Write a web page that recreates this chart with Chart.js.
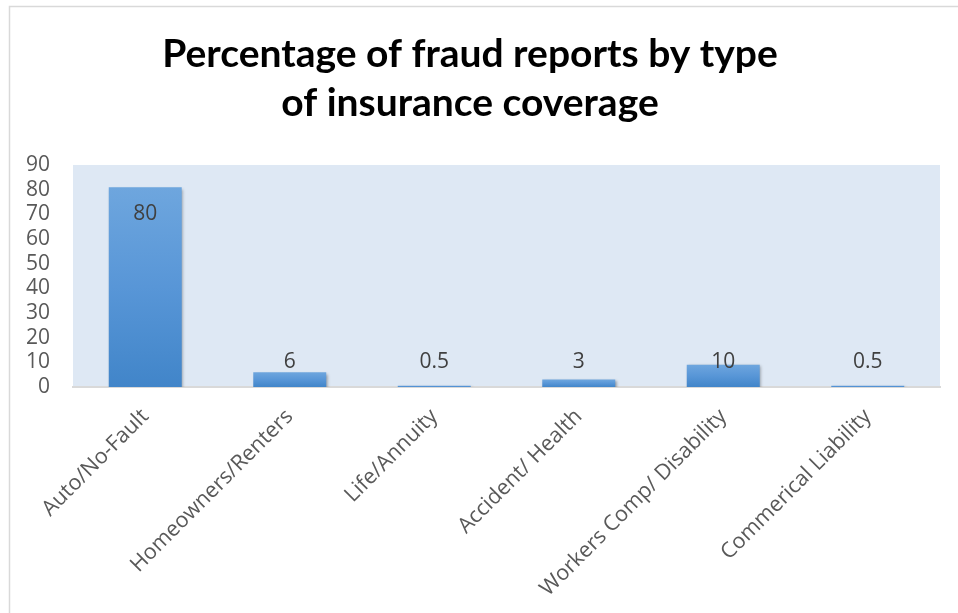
<!DOCTYPE html>
<html>
<head>
<meta charset="utf-8">
<script src="https://cdn.jsdelivr.net/npm/chart.js@4"></script>
<style>
  html, body { margin: 0; padding: 0; background: #ffffff; }
  #wrap { position: relative; width: 958px; height: 613px; }
</style>
</head>
<body>
<div id="wrap"><canvas id="c" width="958" height="613"></canvas></div>
<script>
const categories = ["Auto/No-Fault", "Homeowners/Renters", "Life/Annuity", "Accident/ Health", "Workers Comp/ Disability", "Commerical Liability"];
const values = [81, 6, 0.5, 3, 9, 0.5];
const valueLabels = ["80", "6", "0.5", "3", "10", "0.5"];
const yTicks = [0, 10, 20, 30, 40, 50, 60, 70, 80, 90];
const titleLines = ["Percentage of fraud reports by type", "of insurance coverage"];

const decor = {
  id: 'decor',
  beforeDraw(chart) {
    const ctx = chart.ctx, a = chart.chartArea;
    ctx.save();
    ctx.fillStyle = '#ffffff';
    ctx.fillRect(0, 0, chart.width, chart.height);
    ctx.strokeStyle = '#d9d9d9';
    ctx.lineWidth = 1.5;
    ctx.beginPath();
    ctx.moveTo(9.5, chart.height + 5);
    ctx.lineTo(9.5, 6.5);
    ctx.lineTo(chart.width + 5, 6.5);
    ctx.stroke();
    ctx.fillStyle = '#dee8f4';
    ctx.fillRect(a.left, a.top, a.right - a.left, a.bottom - a.top);
    ctx.restore();
  },
  beforeDatasetsDraw(chart) {
    const ctx = chart.ctx;
    ctx.save();
    ctx.shadowColor = 'rgba(0,0,0,0.35)';
    ctx.shadowBlur = 3;
    ctx.shadowOffsetX = 1.5;
    ctx.shadowOffsetY = 1.5;
  },
  afterDatasetsDraw(chart) {
    const ctx = chart.ctx;
    ctx.restore();
    const meta = chart.getDatasetMeta(0);
    const ys = chart.scales.y;
    ctx.save();
    ctx.font = '21px "Open Sans"';
    ctx.fillStyle = '#404040';
    ctx.textAlign = 'center';
    ctx.textBaseline = 'middle';
    meta.data.forEach((bar, i) => {
      const y = Math.min(bar.y + 27, ys.getPixelForValue(10));
      ctx.fillText(valueLabels[i], bar.x, y);
    });
    ctx.restore();
  }
};

function build() {
  new Chart(document.getElementById('c'), {
    type: 'bar',
    data: {
      labels: categories,
      datasets: [{
        data: values,
        backgroundColor(context) {
          const chart = context.chart;
          const ys = chart.scales.y;
          if (!ys || !context.parsed) return '#5a95d2';
          const top = ys.getPixelForValue(context.parsed.y);
          const bottom = ys.getPixelForValue(0);
          if (!isFinite(top) || bottom - top < 1) return '#82b0e0';
          const g = chart.ctx.createLinearGradient(0, top, 0, bottom);
          g.addColorStop(0, '#6ea6de');
          g.addColorStop(0.5, '#5896d7');
          g.addColorStop(1, '#4185c9');
          return g;
        },
        borderWidth: 0,
        barPercentage: 0.505,
        categoryPercentage: 1.0,
        minBarLength: 1
      }]
    },
    options: {
      responsive: false,
      animation: false,
      devicePixelRatio: 1,
      layout: { padding: { left: 0, right: 18, top: 0, bottom: 0 } },
      plugins: {
        legend: { display: false },
        tooltip: { enabled: false },
        title: {
          display: true,
          text: titleLines,
          color: '#000000',
          font: { family: 'Lato', size: 39, weight: 'bold', lineHeight: 1.256 },
          padding: { top: 30, bottom: 37 }
        }
      },
      scales: {
        x: {
          grid: { display: false, drawTicks: false },
          border: { display: true, color: '#d9d9d9', width: 2 },
          ticks: {
            color: '#595959',
            font: { family: 'Open Sans', size: 21.5 },
            minRotation: 45,
            maxRotation: 45,
            autoSkip: false,
            padding: 17
          },
          afterFit(scale) { scale.height = 226; }
        },
        y: {
          min: 0,
          max: 90,
          afterBuildTicks(scale) { scale.ticks = yTicks.map(v => ({ value: v })); },
          grid: { display: false, drawTicks: false },
          border: { display: false },
          ticks: {
            color: '#595959',
            font: { family: 'Open Sans', size: 21 },
            padding: 23,
            autoSkip: false
          },
          afterFit(scale) { scale.width = 73; }
        }
      }
    },
    plugins: [decor]
  });
}

Promise.all([
  document.fonts.load('20px "Open Sans"'),
  document.fonts.load('21px "Open Sans"'),
  document.fonts.load('bold 39px "Lato"')
]).then(build, build);
</script>
</body>
</html>
